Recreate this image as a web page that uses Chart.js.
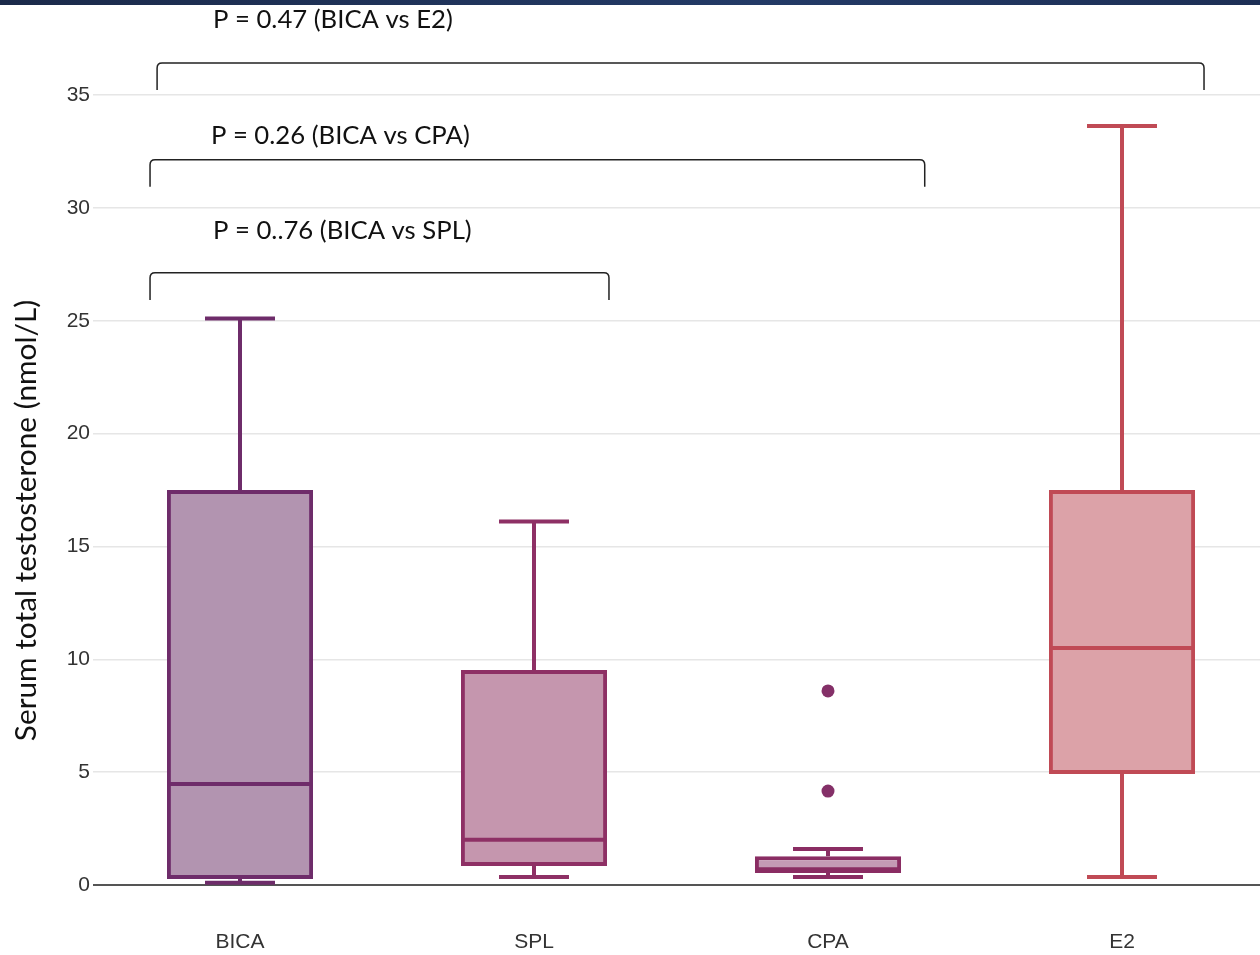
<!DOCTYPE html>
<html><head><meta charset="utf-8">
<script src="https://cdn.jsdelivr.net/npm/chart.js@4/dist/chart.umd.min.js"></script>
<style>
html,body{margin:0;padding:0;background:#fff;overflow:hidden;width:1260px;height:955px;}
#topbar{position:absolute;left:0;top:0;width:1260px;height:5px;background:linear-gradient(90deg,#1b2a4a,#233a66 60%,#1d2f55);z-index:2;}
#wrap{position:absolute;left:0;top:0;width:1280px;height:955px;}
</style></head>
<body>
<div id="topbar"></div>
<div id="wrap"><canvas id="c" width="1280" height="955"></canvas></div>
<script>
const categories = ['BICA','SPL','CPA','E2'];
const whiskerLow = [0.1, 0.35, 0.35, 0.35];
const q1 = [0.27, 0.84, 0.53, 4.92];
const median = [4.47, 2.0, 0.7, 10.5];
const q3 = [17.5, 9.52, 1.27, 17.5];
const whiskerHigh = [25.1, 16.1, 1.6, 33.63];
const outliers = [{x:'CPA', y:8.6}, {x:'CPA', y:4.16}];
const strokeColors = ['#6e2c6a','#8e3065','#8a2d63','#c04a55'];
const fillColors = ['#b294b0','#c596ae','#c49ab5','#dca2a8'];
const yTicks = [0,5,10,15,20,25,30,35];
const yTitle = 'Serum total testosterone (nmol/L)';
const pLabels = ['P = 0.47 (BICA vs E2)','P = 0.26 (BICA vs CPA)','P = 0..76 (BICA vs SPL)'];
const bracketFrom = [-0.282, -0.306, -0.306];
const bracketTo = [3.279, 2.329, 1.255];
const bracketTop = [36.42, 32.13, 27.12];
const bracketFoot = [35.22, 30.93, 25.92];
const labelX = [-0.092, -0.099, -0.092];
const labelY = [38.33, 33.18, 29.0];

const boxPlugin = {
  id:'boxExtras',
  beforeDatasetsDraw(chart){
    const {ctx, scales:{x,y}} = chart;
    ctx.save();
    for(let i=0;i<categories.length;i++){
      const cx = x.getPixelForValue(i);
      const capHalf = (x.getPixelForValue(i+0.119)-cx);
      ctx.strokeStyle = strokeColors[i];
      ctx.lineWidth = 4;
      ctx.beginPath();
      ctx.moveTo(cx, y.getPixelForValue(whiskerHigh[i]));
      ctx.lineTo(cx, y.getPixelForValue(q3[i]));
      ctx.moveTo(cx, y.getPixelForValue(whiskerLow[i]));
      ctx.lineTo(cx, y.getPixelForValue(q1[i]));
      ctx.moveTo(cx-capHalf, y.getPixelForValue(whiskerHigh[i]));
      ctx.lineTo(cx+capHalf, y.getPixelForValue(whiskerHigh[i]));
      ctx.moveTo(cx-capHalf, y.getPixelForValue(whiskerLow[i]));
      ctx.lineTo(cx+capHalf, y.getPixelForValue(whiskerLow[i]));
      ctx.stroke();
    }
    ctx.restore();
  },
  afterDatasetsDraw(chart){
    const {ctx, scales:{x,y}} = chart;
    ctx.save();
    const meta = chart.getDatasetMeta(0);
    for(let i=0;i<categories.length;i++){
      const bar = meta.data[i];
      const half = bar.width/2;
      const cx = x.getPixelForValue(i);
      const my = y.getPixelForValue(median[i]);
      ctx.strokeStyle = strokeColors[i];
      ctx.lineWidth = 4;
      ctx.beginPath();
      ctx.moveTo(cx-half+2, my);
      ctx.lineTo(cx+half-2, my);
      ctx.stroke();
    }
    // brackets
    ctx.strokeStyle = '#222';
    ctx.lineWidth = 1.5;
    for(let k=0;k<pLabels.length;k++){
      const x0 = x.getPixelForValue(bracketFrom[k]);
      const x1 = x.getPixelForValue(bracketTo[k]);
      const yt = y.getPixelForValue(bracketTop[k]);
      const yf = y.getPixelForValue(bracketFoot[k]);
      const r = 5;
      ctx.beginPath();
      ctx.moveTo(x0, yf);
      ctx.lineTo(x0, yt + r);
      ctx.quadraticCurveTo(x0, yt, x0 + r, yt);
      ctx.lineTo(x1 - r, yt);
      ctx.quadraticCurveTo(x1, yt, x1, yt + r);
      ctx.lineTo(x1, yf);
      ctx.stroke();
      ctx.fillStyle = '#111';
      ctx.font = '25.7px Lato, "Open Sans", sans-serif';
      ctx.textAlign = 'left';
      ctx.textBaseline = 'middle';
      ctx.fillText(pLabels[k], x.getPixelForValue(labelX[k]), y.getPixelForValue(labelY[k]));
    }
    // y axis title
    ctx.save();
    ctx.translate(26, y.getPixelForValue(16.15));
    ctx.rotate(-Math.PI/2);
    ctx.fillStyle = '#111';
    ctx.font = '29.8px Lato, "Open Sans", sans-serif';
    ctx.textAlign = 'center';
    ctx.textBaseline = 'middle';
    ctx.fillText(yTitle, 0, 0);
    ctx.restore();
    ctx.restore();
  }
};

new Chart(document.getElementById('c'), {
  data:{
    labels: categories,
    datasets:[
      {type:'bar', data: q1.map((v,i)=>[v,q3[i]]), backgroundColor: fillColors, borderColor: strokeColors,
       borderWidth:4, borderSkipped:false, categoryPercentage:1, barPercentage:0.497, order:2},
      {type:'line', data: outliers, showLine:false, pointRadius:6.5, pointBackgroundColor:'#843068',
       pointBorderColor:'#843068', pointBorderWidth:0, order:1}
    ]
  },
  options:{
    responsive:false, animation:false,
    layout:{padding:{top:95, right:11, left:0, bottom:0}},
    plugins:{legend:{display:false}, tooltip:{enabled:false}},
    scales:{
      x:{type:'category', offset:true,
        afterFit(s){ s.height = 70; },
        grid:{display:false, drawTicks:false},
        border:{display:false},
        ticks:{color:'#333', font:{family:'"Liberation Sans", Arial, sans-serif', size:21}, padding:45, maxRotation:0}
      },
      y:{type:'linear', min:0, max:35,
        afterFit(s){ s.width = 93; },
        afterBuildTicks(s){ s.ticks = yTicks.map(v=>({value:v})); },
        grid:{color:(c)=> c.tick && c.tick.value===0 ? '#555' : '#e6e6e6', lineWidth:(c)=> c.tick && c.tick.value===0 ? 2 : 1.5, drawTicks:false},
        border:{display:false},
        ticks:{color:'#333', font:{family:'"Liberation Sans", Arial, sans-serif', size:21}, padding:3}
      }
    }
  },
  plugins:[boxPlugin]
});
</script>
</body></html>
